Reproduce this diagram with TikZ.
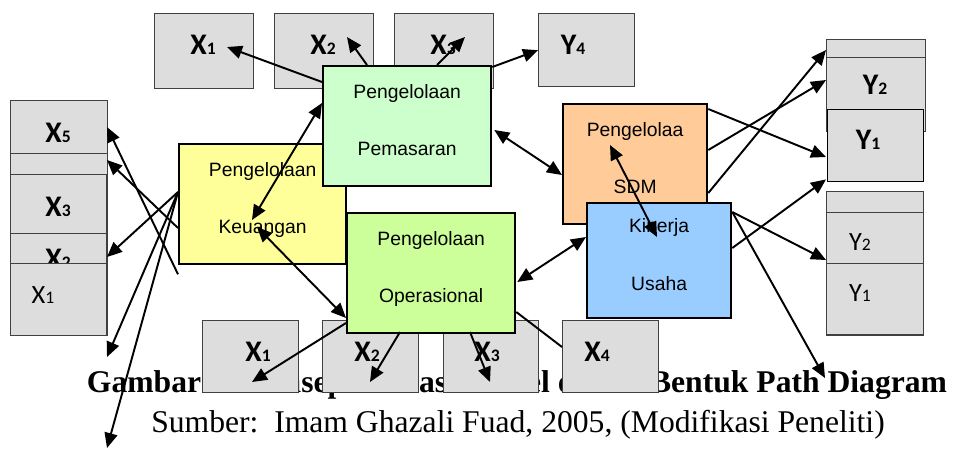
\documentclass[tikz,border=0pt]{standalone}
\usepackage{fontspec}
\setmainfont{Liberation Serif}
\newfontfamily\arialfont{Liberation Sans}
\newfontfamily\calibrifont{Carlito}
\usepackage{tikz}
\usetikzlibrary{arrows.meta, positioning, calc}
\definecolor{abuKotak}{HTML}{DDDDDD}
\definecolor{abuGaris}{HTML}{404040}
\definecolor{hijauPemasaran}{HTML}{CCFFCC}
\definecolor{kuningKeuangan}{HTML}{FFFF99}
\definecolor{hijauOperasional}{HTML}{CCFF99}
\definecolor{oranyeSDM}{HTML}{FFCC99}
\definecolor{biruKinerja}{HTML}{99CCFF}
\newcommand{\angka}[1]{{\fontsize{10}{10}\selectfont #1}}

\begin{document}
\begin{tikzpicture}[x=0.02cm, y=-0.02cm,
        var/.style 2 args={draw=abuGaris, line width=0.8pt, fill=abuKotak, anchor=north west,
            inner sep=0pt, minimum width=#1*0.02cm, minimum height=#2*0.02cm},
        blok/.style 2 args={draw=black, line width=1.3pt, anchor=north west, inner sep=0pt,
            align=center, font=\arialfont\fontsize{11}{13}\selectfont, text depth=7pt,
            minimum width=#1*0.02cm, minimum height=#2*0.02cm},
        lbl/.style={font=\calibrifont\bfseries\fontsize{17}{17}\selectfont, inner sep=0pt},
        lblr/.style={font=\calibrifont\fontsize{15}{15}\selectfont, inner sep=0pt},
        garis/.style={line width=1.1pt},
        panah/.style={garis, -{Triangle[length=3mm, width=2.6mm]}},
        dua/.style={garis, {Triangle[length=3mm, width=2.6mm]}-{Triangle[length=3mm, width=2.6mm]}}
    ]
        \useasboundingbox (0,0) rectangle (953,450);

        \node[font=\bfseries\fontsize{18}{20}\selectfont, anchor=base] (judul) at (517,392)
            {Gambar 1. Konseptualisasi Model dalam Bentuk Path Diagram};
        \node[font=\fontsize{18}{20}\selectfont, anchor=base] (sumber) at (518,432)
            {Sumber:\ \ Imam Ghazali Fuad, 2005, (Modifikasi Peneliti)};

        \node[var={99}{75}] (atasX1) at (154,13) {};
        \node[var={99}{75}] (atasX2) at (274,13) {};
        \node[var={99}{75}] (atasX3) at (394,13) {};
        \node[var={96}{73}] (atasY4) at (538,13) {};
        \node[lbl] (tAtasX1) at (203,45) {X\angka{1}};
        \node[lbl] (tAtasX2) at (323,45) {X\angka{2}};
        \node[lbl] (tAtasX3) at (443,45) {X\angka{3}};
        \node[lbl] (tAtasY4) at (573,45) {Y\angka{4}};

        \node[var={97}{235}] (kiriX5) at (10,100) {};
        \node[var={97}{182}] (kiriKosong) at (10,153) {};
        \node[var={96}{161}] (kiriX3) at (10,174) {};
        \node[var={96}{102}] (kiriX2) at (10,233) {};
        \node[lbl] (tKiriX5) at (58,133) {X\angka{5}};
        \node[lbl] (tKiriX3) at (58,207) {X\angka{3}};
        \node[lbl] (tKiriX2) at (58,259) {X\angka{2}};
        \node[var={96}{72}] (kiriX1) at (10,263) {};
        \node[lblr] (tKiriX1) at (43,295) {X\angka{1}};

        \node[var={99}{91}] (kananKosong1) at (826,39) {};
        \node[var={99}{74}] (kananY2a) at (826,57) {};
        \node[var={96}{72}, draw=black] (kananY1a) at (827,109) {};
        \node[lbl] (tKananY2a) at (875,85) {Y\angka{2}};
        \node[lbl] (tKananY1a) at (868,140) {Y\angka{1}};

        \node[var={97}{144}] (kananKosong2) at (826,191) {};
        \node[var={97}{122}] (kananY2b) at (826,212) {};
        \node[var={97}{71}] (kananY1b) at (826,263) {};
        \node[lblr] (tKananY2b) at (860,242) {Y\angka{2}};
        \node[lblr] (tKananY1b) at (860,293) {Y\angka{1}};

        \node[var={96}{72}] (bawahX1) at (202,320) {};
        \node[var={96}{72}] (bawahX2) at (322,320) {};
        \node[var={95}{72}] (bawahX3) at (443,320) {};
        \node[var={96}{72}] (bawahX4) at (562,320) {};
        \node[lbl] (tBawahX1) at (258,352) {X\angka{1}};
        \node[lbl] (tBawahX2) at (367,352) {X\angka{2}};
        \node[lbl] (tBawahX3) at (487,352) {X\angka{3}};
        \node[lbl] (tBawahX4) at (597,352) {X\angka{4}};

        \node[blok={167}{120}, fill=kuningKeuangan] (keu) at (178,143) {Pengelolaan\\[20pt]Keuangan};
        \node[blok={168}{120}, fill=hijauPemasaran] (pem) at (322,65) {Pengelolaan\\[20pt]Pemasaran};
        \node[blok={168}{120}, fill=hijauOperasional] (ops) at (346,212) {Pengelolaan\\[20pt]Operasional};
        \node[blok={144}{120}, fill=oranyeSDM] (sdm) at (562,103) {Pengelolaa\\[20pt]SDM};
        \node[blok={144}{115}, fill=biruKinerja] (kin) at (586,202) {Kinerja\\[20pt]Usaha};

        \draw[panah] ($(pem.north west)+(0,17)$) -- ($(atasX1.north west)+(73,34)$);
        \draw[panah] ($(pem.north west)+(45,0)$) -- ($(atasX2.north west)+(73,24)$);
        \draw[panah] ($(pem.north west)+(115,0)$) -- ($(atasX3.north west)+(71,24)$);
        \draw[panah] ($(pem.north east)+(0,2)$) -- (atasY4.west);
        \draw[dua] ($(keu.north west)+(74,77)$) -- ($(pem.north west)+(0,38)$);
        \draw[dua] ($(keu.north west)+(79,84)$) -- ($(ops.north west)+(0,106)$);
        \draw[dua] ($(pem.north east)+(2,65)$) -- ($(sdm.north west)+(0,72)$);
        \draw[dua] ($(ops.north east)+(1,70)$) -- ($(kin.north west)+(0,35)$);
        \draw[dua] ($(sdm.north west)+(48,42)$) -- ($(kin.north west)+(71,35)$);

        \draw[panah] ($(ops.north west)+(0,111)$) -- ($(bawahX1.north west)+(50,62)$);
        \draw[panah] ($(ops.north west)+(54,120)$) -- ($(bawahX2.north west)+(48,62)$);
        \draw[panah] ($(ops.north west)+(124,120)$) -- ($(bawahX3.north west)+(47,62)$);
        \draw[garis] ($(ops.north east)+(0,100)$) -- ($(bawahX4.north west)+(0,27)$);

        \draw[panah] ($(sdm.north east)+(0,6)$) -- ($(kananY1a.north west)+(-1,48)$);
        \draw[panah] ($(sdm.north east)+(0,47)$) -- ($(kananY2a.north west)+(0,23)$);
        \draw[panah] ($(sdm.north east)+(0,90)$) -- ($(kananKosong1.north west)+(0,11)$);
        \draw[panah] ($(kin.north east)+(0,46)$) -- ($(kananY1a.south west)+(-1,-3)$);
        \draw[panah] ($(kin.north east)+(0,10)$) -- ($(kananY2b.north west)+(0,48)$);
        \coordinate (ujung) at (825,378);
        \draw[panah] ($(kin.north east)+(0,10)$) -- (ujung);

        \draw[panah] ($(keu.south west)+(0,9)$) -- ($(kiriX5.north west)+(97,27)$);
        \draw[panah] ($(keu.north west)+(0,85)$) -- ($(kiriKosong.north west)+(97,7)$);
        \draw[panah] ($(keu.north west)+(0,49)$) -- ($(kiriX2.north west)+(97,24)$);
        \coordinate (ujungA) at (107,357);
        \coordinate (ujungB) at (107,448);
        \draw[panah] ($(keu.north west)+(0,49)$) -- (ujungA);
        \draw[panah] ($(keu.north west)+(0,49)$) -- (ujungB);
    \end{tikzpicture}
\end{document}
